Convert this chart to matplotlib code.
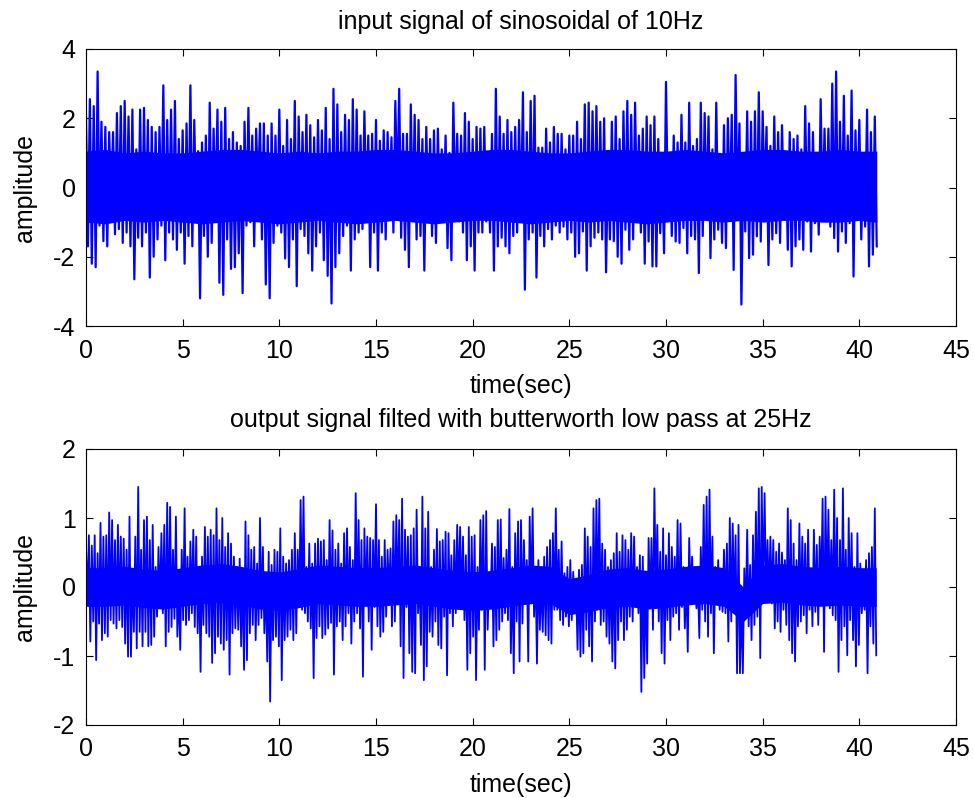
import numpy as np
import matplotlib
matplotlib.use("Agg")
import matplotlib.pyplot as plt

# ---------------- data ----------------
top_title = "input signal of sinosoidal of 10Hz"
bot_title = "output signal filted with butterworth low pass at 25Hz"
x_label = "time(sec)"
y_label = "amplitude"
x_ticks = [0, 5, 10, 15, 20, 25, 30, 35, 40, 45]
top_yticks = [-4, -2, 0, 2, 4]
bot_yticks = [-2, -1, 0, 1, 2]

top_step = 0.2   # seconds between successive upper peaks
top_hi = [
    2.1, 2.55, 2.35, 3.35, 1.9, 1.75, 1.6, 1.6, 2.15, 2.35,
    2.5, 2.05, 2.25, 1.1, 2.25, 2.3, 1.95, 1.75, 1.6, 1.75,
    2.95, 1.95, 2.25, 2.5, 1.4, 1.65, 1.85, 2.95, 1.95, 1.05,
    1.3, 1.5, 2.45, 1.7, 2.25, 1.9, 2.3, 1.4, 1.6, 1.3,
    1.2, 1.9, 2.3, 1.5, 1.7, 1.85, 1.85, 1.5, 1.85, 1.5,
    2.25, 1.2, 1.95, 1.4, 2.5, 2.05, 1.6, 2.1, 1.8, 1.45,
    1.95, 1.65, 2.3, 1.4, 2.85, 2.4, 1.6, 2.1, 1.95, 2.55,
    2.25,
    1.5, 2.2, 1.5, 1.55, 1.95, 1.35, 1.65, 1.6, 1.45, 2.5,
    2.85, 1.55, 1.55, 2.4, 2.1, 1.95, 1.4, 1.75, 1.4, 1.65,
    1.7, 1.1, 1.5, 1.0, 2.45, 1.55, 1.5, 2.15, 1.9, 1.4,
    1.75, 1.7, 1.75, 0.6, 1.55, 2.85, 2.05, 1.55, 1.95, 1.6,
    1.75, 1.95, 2.75, 1.6, 2.5, 2.65, 1.15, 1.15, 1.7, 1.3,
    1.75, 1.55, 1.55, 1.1, 1.5, 1.5, 1.9, 1.4, 2.4, 2.45,
    2.2, 2.35, 1.9, 2.0, 0.85, 1.9, 2.05,
    1.4, 2.2, 2.5, 2.1, 2.45, 1.5, 1.7, 2.05, 1.8, 2.05,
    1.4, 0.6, 3.05, 0.8, 1.5, 1.3, 2.1, 1.3, 2.45, 1.2,
    1.4, 2.45, 2.15, 2.05, 1.1, 2.45, 0.5, 1.8, 2.0, 2.1,
    3.25, 1.85, 0.6, 2.2, 1.9, 2.2, 2.75, 2.2, 1.75, 1.2,
    2.05, 1.6, 1.8, 1.0, 1.6, 1.4, 1.5, 1.1, 2.35, 1.85,
    1.6, 0.8, 2.55, 1.7, 1.7, 3.0, 3.35, 1.9, 2.65, 1.5,
    2.8, 1.65, 1.95, 0.9, 2.25, 1.6, 2.05,
]
top_lo = [
    -1.7, -2.2, -2.3, -1.1, -1.55, -1.7, -0.6, -1.35, -1.2, -1.6,
    -1.3, -1.7, -2.65, -1.45, -1.7, -1.3, -2.6, -2.0, -1.5, -1.1,
    -2.1, -1.3, -1.5, -1.8, -1.3, -2.2, -1.4, -1.7, -0.95, -3.2,
    -1.4, -2.0, -1.6, -0.75, -2.75, -3.1, -1.5, -2.35, -2.3, -1.9,
    -3.05, -1.1, -1.0, -1.7, -0.1, -1.5, -2.8, -3.2, -1.6, -1.1,
    -1.3, -2.05, -2.3, -1.5, -2.85, -1.2, -1.4, -1.9, -2.4, -1.7,
    -1.3, -2.1, -2.55, -3.35, -2.3, -1.9, -1.4, -1.1, -2.4, -1.5,
    -1.3,
    -1.2, -0.75, -2.3, -1.3, -2.4, -1.3, -1.5, -0.7, -1.3, -0.3,
    -1.45, -1.8, -2.3, -0.9, -1.5, -1.4, -2.4, -0.9, -1.4, -1.6,
    -0.9, -0.65, -1.75, -2.1, -0.45, -0.98, -1.3, -2.1, -1.7, -2.4,
    -1.3, -1.3, -0.98, -1.3, -2.4, -1.7, -1.45, -1.7, -1.9, -1.4,
    -1.3, -0.98, -2.95, -1.5, -1.3, -2.6, -1.4, -1.7, -1.2, -1.5,
    -1.1, -1.3, -1.13, -1.5, -1.3, -2.0, -1.9, -1.27, -2.4, -1.7,
    -1.45, -1.3, -1.5, -2.45, -1.5, -1.55, -2.0,
    -2.2, -1.22, -1.8, -1.5, -0.84, -1.3, -2.2, -1.56, -2.28, -2.28,
    -1.32, -1.9, -0.74, -1.4, -1.56, -1.6, -1.17, -1.9, -1.4, -1.5,
    -2.47, -1.4, -0.84, -2.04, -1.5, -1.22, -1.6, -1.75, -0.69, -2.38,
    -0.69, -3.38, -1.27, -2.04, -1.94, -1.41, -1.56, -0.36, -2.24, -1.5,
    -1.32, -1.6, -0.69, -1.8, -2.28, -1.7, -1.5, -1.8, -0.98, -1.85,
    -1.03, -1.36, -0.94, -0.98, -1.13, -1.46, -1.85, -1.27, -1.6, -1.03,
    -2.57, -0.79, -1.5, -1.13, -2.28, -1.94, -1.7,
]
# solid inner band of the input trace, one value per second
top_core_step = 1.0
top_core_hi = [
    1.05, 1.1, 1.0, 1.05, 1.0, 1.0, 1.05, 1.1, 1.1, 1.05,
    1.0, 1.05, 1.0, 1.05, 1.05, 1.1, 1.1, 1.05, 1.0, 1.0,
    1.05, 1.1, 1.1, 1.05, 1.0, 1.0, 1.05, 1.1, 1.1, 1.05,
    1.05, 1.1, 1.05, 1.0, 1.05, 1.1, 1.1, 1.05, 1.05, 1.1,
    1.05, 1.05,
]
top_core_lo = [
    -1.0, -1.05, -0.95, -1.0, -0.95, -1.0, -1.05, -1.0, -0.95, -1.0,
    -1.05, -1.0, -0.95, -1.0, -1.05, -1.0, -0.95, -1.0, -1.05, -1.0,
    -0.95, -0.95, -1.0, -1.05, -1.0, -0.95, -1.0, -0.95, -1.0, -1.05,
    -1.0, -0.95, -0.95, -1.0, -0.95, -1.0, -0.95, -0.95, -1.0, -1.0,
    -0.95, -1.0,
]

bot_step = 0.15
bot_hi = [
    0.58, 0.75, 0.6, 0.75, 0.49, 0.93, 0.73, 0.75, 1.08, 0.97,
    0.68, 0.9, 0.73, 0.7, 0.54, 1.02, 0.2, 0.73, 1.45, 0.54,
    0.97, 1.02, 0.68, 0.9, 0.29, 0.58, 0.78, 0.9, 1.22, 1.16,
    0.54, 1.02, 0.0, 0.54, 1.14, 0.44, 0.66, 0.83, 0.73, 0.29,
    0.44, 0.87, 0.73, 0.83, 0.75, 1.14, 0.68, 1.0, 0.58, 0.78,
    0.63, 0.44, 0.29, 0.41, 0.24, 0.95, 0.75, 0.54, 0.58, 0.34,
    1.0, 0.58, 0.1, 0.51, 0.32, 0.54, 0.51, 0.85, 0.44, 0.34,
    0.39, 0.54, 0.78, 0.54, 1.26, 1.31, 0.29, 0.63, 0.34, 0.63,
    0.7, 0.66, 0.68, 0.39, 0.97, 0.82, 0.54, 0.63, 0.34, 0.78,
    0.85, 0.58, 0.39, 1.36, 0.97,
    0.68, 0.85, 0.73, 0.71, 0.68, 1.2, 0.68, 0.44, 0.68, 0.54,
    0.56, 0.95, 1.04, 0.97, 1.28, 0.83, 0.73, 0.75, 0.85, 1.12,
    0.15, 1.31, 0.85, 1.09, 0.29, 0.54, 0.84, 0.66, 0.68, 0.8,
    0.78, 0.46, 0.68, 0.9, 0.87, 0.73, 0.46, 0.87, 0.73, 0.75,
    0.29, 0.97, 1.04, 1.1, 0.15, 0.63, 0.58, 0.97, 0.98, 0.42,
    0.54, 1.13, 0.29, 0.78, 0.95, 0.97, 0.68, 0.39, 1.02, 1.14,
    0.29, 0.39, 0.1, 0.44, 0.58, 0.68, 0.78, 1.14, 0.54, 0.66,
    0.2, 0.29, 0.39, 0.22, 0.0, 0.25, 0.32, 0.85, 0.73, 0.58,
    1.14, 1.26, 1.28, 0.63, 0.54, 0.29, 0.39, 0.49, 0.78, 0.51,
    0.75, 0.68, 0.54, 0.78, 0.73, 0.29,
    0.46, 0.44, 0.15, 0.71, 0.71, 1.43, 0.9, 0.51, 0.85, 0.46,
    0.78, 0.58, 0.44, 0.97, 0.92, 0.29, 0.15, 0.71, 0.44, 0.0,
    0.05, 0.58, 1.19, 1.31, 1.41, 0.73, 0.29, 0.39, 0.25, 0.54,
    0.63, 1.0, 0.92, 0.75, 0.9, -0.19, 0.27, 0.83, 0.32, 0.75,
    1.09, 1.43, 1.45, 1.36, 0.68, 0.73, 0.68, 0.51, 0.63, 0.5,
    0.39, 1.14, 0.97, 0.63, 0.39, 0.92, 0.73, 0.63, 0.83, 0.27,
    0.83, 0.61, 0.73, 1.28, 1.31, 1.12, 0.68, 1.41, 1.0, 0.68,
    1.43, 0.54, 1.0, 0.78, 0.29, 0.78, 0.34, 0.0, 0.39, 0.49,
    0.58, 1.14,
]
bot_lo = [
    -0.19, -0.79, -0.5, -1.06, -0.53, -0.77, -0.67, -0.72, -0.48, -0.53,
    -0.6, -0.48, -0.58, -0.82, -1.01, -1.01, -0.65, -0.89, -0.65, -0.86,
    -0.65, -0.86, -0.84, -0.72, -0.43, -0.31, -0.38, -0.86, -0.65, -0.58,
    -0.46, -0.72, -0.91, -0.48, -0.55, -0.48, -0.38, -0.58, -0.67, -1.23,
    -0.55, -0.67, -0.72, -1.1, -0.96, -0.72, -0.82, -0.91, -0.77, -1.27,
    -0.67, -0.6, -0.62, -0.86, -1.2, -1.06, -0.67, -0.55, -0.77, -0.55,
    -0.45, -0.67, -1.08, -1.66, -0.77, -0.72, -0.86, -1.35, -0.77, -0.72,
    -0.62, -0.77, -0.67, -0.28, -0.33, -0.38, -0.5, -0.6, -1.32, -0.74,
    -0.57, -0.74, -0.69, -0.6, -0.52, -1.27, -0.57, -0.5, -0.77, -0.57,
    -0.38, -0.82, -0.5, -0.38, -0.6,
    -1.3, -0.24, -0.5, -0.91, -0.29, -0.57, -0.72, -0.65, -0.43, -0.14,
    -0.57, -0.5, -0.19, -0.86, -1.32, -0.29, -0.96, -1.23, -1.25, -0.38,
    -0.84, -1.35, -1.15, -0.65, -0.72, -0.5, -0.84, -0.89, -0.43, -1.28,
    -0.38, -0.57, -0.38, -0.12, -0.31, -0.48, -1.2, -0.96, -0.72, -1.35,
    -0.62, -0.33, -1.2, -0.62, -0.19, -0.86, -0.77, -0.62, -0.5, -0.38,
    -0.48, -0.96, -1.25, -0.5, -1.08, -0.53, -0.19, -1.08, -0.24, -0.43,
    -1.11, -0.62, -0.65, -0.7, -0.77, -0.82, -0.33, -0.33, -0.48, -0.55,
    -0.43, -0.57, -0.48, -0.31, -0.91, -1.01, -0.96, -0.62, -0.86, -1.08,
    -0.5, -0.29, -0.55, -0.5, -0.72, -0.82, -1.08, -1.18, -0.77, -0.5,
    -0.77, -0.62, -0.43, -0.5, -0.26, -0.38,
    -1.52, -1.32, -1.11, -0.31, -0.62, -0.14, -0.5, -0.96, -1.11, -0.48,
    -0.77, -0.43, -0.38, -0.62, -0.29, -0.6, -0.94, -0.14, -0.21, -0.31,
    -0.74, -0.33, -0.5, -0.72, -0.38, -0.96, -0.24, -0.33, -0.36, -0.38,
    -0.79, -0.5, -0.33, -1.25, -1.25, -1.25, -0.43, -0.57, -0.77, -0.55,
    -0.43, -1.03, -0.09, -0.19, -0.19, -0.24, -0.6, -0.5, -0.65, -0.33,
    -0.55, -0.77, -0.96, -1.08, -0.57, -0.5, -0.41, -0.67, -0.33, -0.57,
    -0.36, -0.55, -0.14, -0.94, -0.24, -0.31, -0.41, -0.48, -1.23, -0.77,
    -0.57, -0.99, -0.48, -0.77, -1.15, -0.84, -0.38, -0.33, -1.25, -0.57,
    -0.82, -0.99,
]
# solid inner band of the filtered trace, one value per second
bot_core_step = 1.0
bot_core_hi = [
    0.28, 0.28, 0.3, 0.26, 0.24, 0.28, 0.32, 0.34, 0.3, 0.24,
    0.22, 0.26, 0.32, 0.3, 0.28, 0.28, 0.3, 0.32, 0.28, 0.24,
    0.22, 0.24, 0.28, 0.32, 0.3, 0.12, 0.18, 0.26, 0.28, 0.24,
    0.26, 0.3, 0.32, 0.28, 0.0, 0.32, 0.34, 0.3, 0.28, 0.3,
    0.28, 0.28,
]
bot_core_lo = [
    -0.28, -0.28, -0.26, -0.3, -0.32, -0.28, -0.24, -0.22, -0.26, -0.32,
    -0.34, -0.3, -0.24, -0.26, -0.28, -0.28, -0.26, -0.24, -0.28, -0.32,
    -0.34, -0.32, -0.28, -0.24, -0.24, -0.4, -0.36, -0.3, -0.28, -0.32,
    -0.3, -0.26, -0.24, -0.28, -0.5, -0.24, -0.22, -0.26, -0.28, -0.26,
    -0.28, -0.28,
]

# ---------------- styling ----------------
plt.rcParams["font.family"] = ["Liberation Sans", "DejaVu Sans"]
plt.rcParams["axes.unicode_minus"] = False
FS = 18
LINE_COLOR = "#0000FF"


def signal_trace(hi, lo, step):
    """Interleave upper and lower peaks along the time axis."""
    n = len(hi)
    t = np.empty(2 * n)
    y = np.empty(2 * n)
    idx = np.arange(n)
    t[0::2] = idx * step
    t[1::2] = idx * step + step / 2.0
    y[0::2] = hi
    y[1::2] = lo
    return t, y


def core_band(hi, lo, step, t_end):
    t = np.minimum(np.arange(len(hi)) * step, t_end)
    return t, np.asarray(hi), np.asarray(lo)


def style_axes(ax, yticks, ylim, title, title_pad):
    ax.set_xlim(0, 45)
    ax.set_ylim(*ylim)
    ax.set_xticks(x_ticks)
    ax.set_yticks(yticks)
    ax.tick_params(direction="in", top=True, right=True, length=5, width=0.8,
                   labelsize=FS, colors="black")
    ax.tick_params(axis="x", pad=9.0)
    ax.tick_params(axis="y", pad=7.5)
    for sp in ax.spines.values():
        sp.set_linewidth(0.8)
        sp.set_color("black")
    ax.set_title(title, fontsize=FS, pad=title_pad)
    ax.set_xlabel(x_label, fontsize=FS, labelpad=8)
    ax.set_ylabel(y_label, fontsize=FS, labelpad=12)


fig = plt.figure(figsize=(9.74, 7.98), dpi=100)
ax1 = fig.add_axes([86 / 974, 1 - 326 / 798, 870 / 974, 277 / 798])
ax2 = fig.add_axes([86 / 974, 1 - 725 / 798, 870 / 974, 276 / 798])

t1, y1 = signal_trace(top_hi, top_lo, top_step)
tc1, ch1, cl1 = core_band(top_core_hi, top_core_lo, top_core_step, t1[-1])
ax1.fill_between(tc1, cl1, ch1, color=LINE_COLOR, linewidth=0)
ax1.plot(t1, y1, color=LINE_COLOR, linewidth=1.6)
style_axes(ax1, top_yticks, (-4, 4), top_title, 14.4)

t2, y2 = signal_trace(bot_hi, bot_lo, bot_step)
tc2, ch2, cl2 = core_band(bot_core_hi, bot_core_lo, bot_core_step, t2[-1])
ax2.fill_between(tc2, cl2, ch2, color=LINE_COLOR, linewidth=0)
ax2.plot(t2, y2, color=LINE_COLOR, linewidth=1.3)
style_axes(ax2, bot_yticks, (-2, 2), bot_title, 15.8)

fig.savefig("out.png", dpi=100, facecolor="white")
